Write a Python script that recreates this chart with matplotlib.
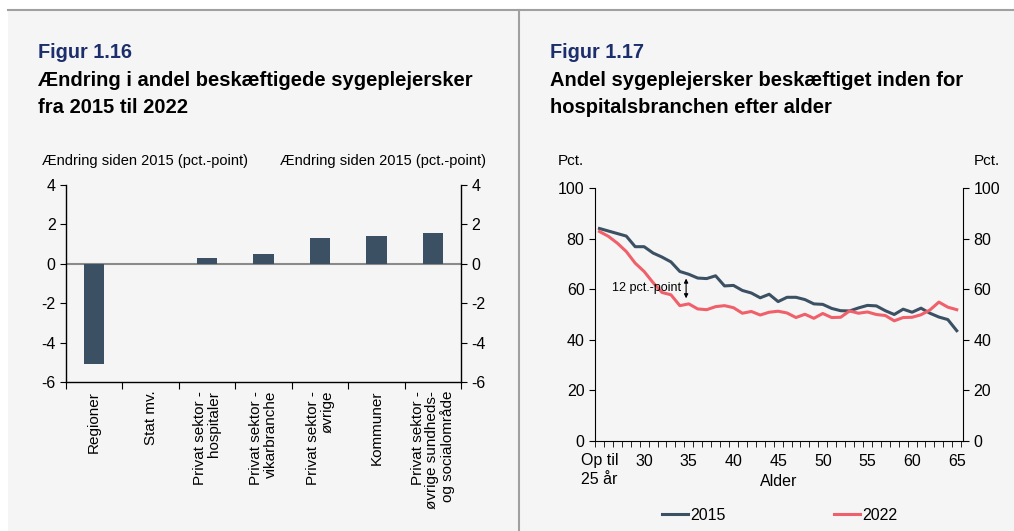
import numpy as np
import matplotlib.pyplot as plt
from matplotlib.patches import Rectangle
from matplotlib.lines import Line2D

plt.rcParams['font.family'] = ['Liberation Sans', 'DejaVu Sans']

# Figur 1.16 data
sektorer = ["Regioner", "Stat mv.", "Privat sektor -\nhospitaler", "Privat sektor -\nvikarbranche",
            "Privat sektor -\nøvrige", "Kommuner",
            "Privat sektor -\nøvrige sundheds-\nog socialområde"]
aendring = [-5.1, 0.0, 0.30, 0.52, 1.33, 1.42, 1.58]

# Figur 1.17 data
alder = list(range(25, 66))
andel_2015 = [84.0, 83.0, 82.0, 81.0, 76.8, 76.8, 74.3, 72.7, 70.8, 67.0,
              65.9, 64.4, 64.2, 65.3, 61.3, 61.5, 59.5, 58.5, 56.6, 58.0,
              55.1, 56.8, 56.8, 55.9, 54.2, 54.0, 52.4, 51.5, 51.4, 52.6,
              53.6, 53.4, 51.5, 50.0, 52.1, 50.9, 52.5, 50.5, 49.0, 48.0, 43.6]
andel_2022 = [82.8, 80.9, 78.2, 74.9, 70.3, 67.0, 62.6, 58.7, 57.8, 53.5,
              54.2, 52.2, 51.9, 53.1, 53.5, 52.7, 50.5, 51.2, 49.8, 50.9,
              51.3, 50.6, 48.8, 50.1, 48.5, 50.4, 48.8, 48.9, 51.4, 50.5,
              51.0, 50.0, 49.6, 47.5, 48.8, 48.9, 49.9, 51.8, 54.9, 52.9, 51.9]
alder_labels = ["Op til\n25 år", "30", "35", "40", "45", "50", "55", "60", "65"]

bg = "#f5f5f5"
dark = "#3b5163"
red = "#f0606b"
blue = "#1c2e6b"

fig = plt.figure(figsize=(10.14, 5.31), dpi=100)
fig.patch.set_facecolor("white")
fig.patches.append(Rectangle((8 / 1014, 0), 1, 521 / 531, transform=fig.transFigure,
                             facecolor=bg, edgecolor="none", zorder=-5))
fig.lines.append(Line2D([8 / 1014, 1], [521 / 531, 521 / 531], transform=fig.transFigure,
                        color="#a0a0a0", lw=1.5, zorder=-4))
fig.lines.append(Line2D([519 / 1014, 519 / 1014], [0, 521 / 531], transform=fig.transFigure,
                        color="#a0a0a0", lw=1.5, zorder=-4))

# titles
fig.text(38 / 1014, 1 - 52 / 531, "Figur 1.16", color=blue, fontsize=14.3, fontweight="bold", va="center")
fig.text(38 / 1014, 1 - 94 / 531, "Ændring i andel beskæftigede sygeplejersker\nfra 2015 til 2022",
         fontsize=14.5, fontweight="bold", va="center", linespacing=1.55)
fig.text(550 / 1014, 1 - 52 / 531, "Figur 1.17", color=blue, fontsize=14.3, fontweight="bold", va="center")
fig.text(550 / 1014, 1 - 94 / 531, "Andel sygeplejersker beskæftiget inden for\nhospitalsbranchen efter alder",
         fontsize=14.5, fontweight="bold", va="center", linespacing=1.55)

# ---- Figur 1.16: bars ----
ax1 = fig.add_axes([66 / 1014, 149 / 531, 395 / 1014, 197 / 531])
ax1.set_facecolor(bg)
x = np.arange(len(sektorer))
ax1.bar(x, aendring, width=0.36, color=dark, edgecolor="none", zorder=3)
ax1.axhline(0, color="#8a8a8a", lw=1.5, zorder=2)
ax1.set_xlim(-0.5, len(sektorer) - 0.5)
ax1.set_ylim(-6, 4)
ax1.set_yticks([4, 2, 0, -2, -4, -6])
ax1.set_yticklabels(["4", "2", "0", "-2", "-4", "-6"])
ax1.tick_params(axis="y", labelsize=11.5, length=4, direction="out", labelright=True, right=True)
ax1.set_xticks(np.arange(-0.5, len(sektorer), 1.0))
ax1.set_xticklabels([])
ax1.tick_params(axis="x", length=5, direction="out")
for i, lab in enumerate(sektorer):
    ax1.text(i, -6.45, lab, rotation=90, ha="center", va="top", fontsize=11,
             multialignment="right", linespacing=1.05)
ax1.spines["top"].set_visible(False)
for s in ["left", "right", "bottom"]:
    ax1.spines[s].set_linewidth(1.0)
fig.text(42 / 1014, 1 - 161 / 531, "Ændring siden 2015 (pct.-point)", fontsize=10.5, va="center")
fig.text(486 / 1014, 1 - 161 / 531, "Ændring siden 2015 (pct.-point)", fontsize=10.5, va="center", ha="right")

# ---- Figur 1.17: lines ----
ax2 = fig.add_axes([595 / 1014, 90 / 531, 368 / 1014, 253 / 531])
ax2.set_facecolor(bg)
ax2.plot(alder, andel_2015, color=dark, lw=2.2, label="2015", zorder=3)
ax2.plot(alder, andel_2022, color=red, lw=2.2, label="2022", zorder=3)
ax2.set_xlim(24.6, 65.7)
ax2.set_ylim(0, 100)
ax2.set_yticks(range(0, 101, 20))
ax2.tick_params(axis="y", labelsize=11.5, length=4, direction="out", labelright=True, right=True)
ax2.set_xticks(range(25, 66, 5))
ax2.set_xticklabels(alder_labels, fontsize=11.5, multialignment="left", linespacing=1.25)
ax2.set_xticks(np.arange(24.5, 66, 1.0), minor=True)
ax2.tick_params(axis="x", which="major", length=0, pad=9)
ax2.tick_params(axis="x", which="minor", length=4, direction="out")
ax2.spines["top"].set_visible(False)
fig.text(779 / 1014, 1 - 481 / 531, "Alder", fontsize=11.5, ha="center", va="center")
ax2.annotate("", xy=(34.7, 55.3), xytext=(34.7, 65.3),
             arrowprops=dict(arrowstyle="<|-|>", color="black", lw=0.8, mutation_scale=6))
ax2.text(34.1, 60.5, "12 pct.-point", fontsize=9, ha="right", va="center")
fig.text(558 / 1014, 1 - 161 / 531, "Pct.", fontsize=11, va="center")
fig.text(1000 / 1014, 1 - 161 / 531, "Pct.", fontsize=11, va="center", ha="right")
fig.legend(loc="center", bbox_to_anchor=(780 / 1014, 1 - 515 / 531), ncol=2, frameon=False,
           fontsize=11.5, handlelength=1.6, handletextpad=0.15, columnspacing=6.8)

fig.savefig("out.png", dpi=100, facecolor=fig.get_facecolor())
